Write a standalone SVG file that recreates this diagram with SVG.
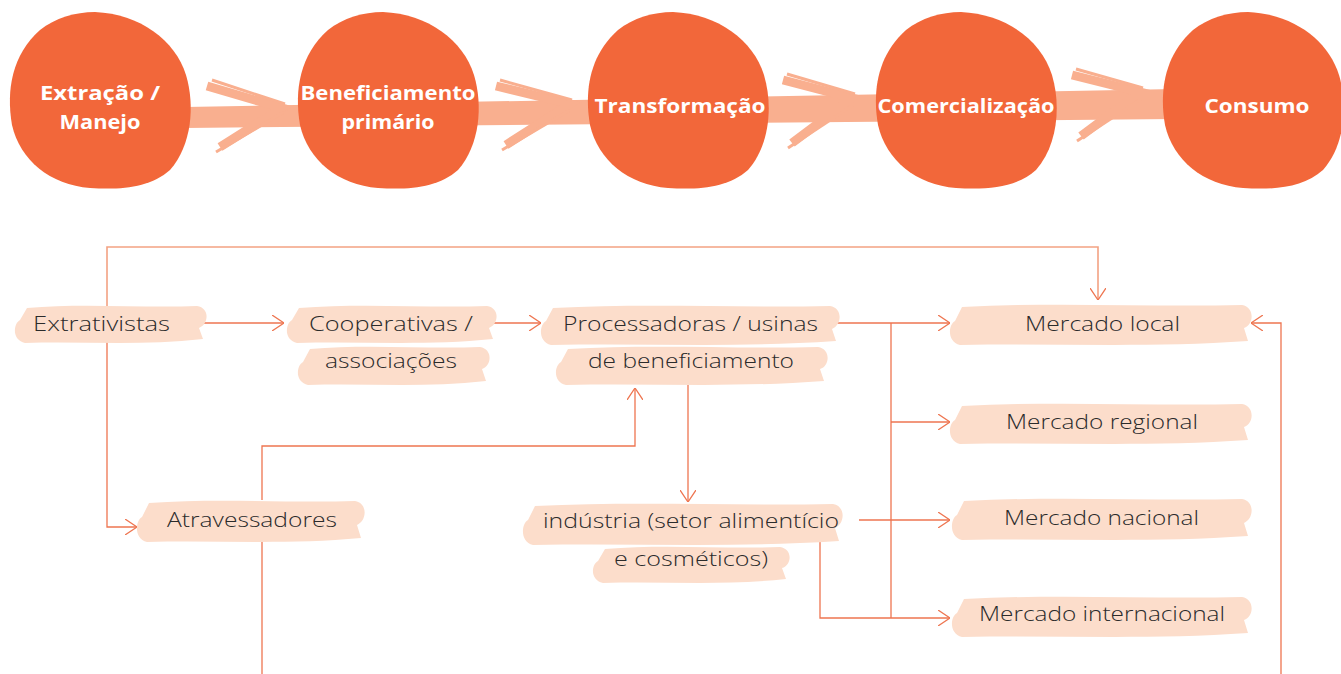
<svg xmlns="http://www.w3.org/2000/svg" width="1341" height="674" viewBox="0 0 1341 674">
<style>
.stage{fill:#F2673A}
.band{fill:#F9AF8F}
.chev{fill:none;stroke:#F9AF8F;stroke-width:9;stroke-linejoin:miter}
.chev2{fill:none;stroke:#F9AF8F;stroke-width:3}
.st{font-family:"Open Sans","Noto Sans",sans-serif;font-weight:700;font-size:20px;fill:#fff;text-anchor:middle}
.blob{fill:#FCDDCB}
.lbl{font-family:"Open Sans",Lato,sans-serif;font-weight:300;font-size:20.5px;fill:#2b2b2b;text-anchor:middle}
.ln{fill:none;stroke:#EE7550;stroke-width:1.3}
.lt{fill:none;stroke:#F3A283;stroke-width:1.6}
</style>
<defs>
<path id="circ" d="M-5,-88 C40,-86 75,-60 86,-25 C95,5 92,45 70,70 C50,88 20,90 -10,88 C-50,85 -80,60 -88,25 C-94,-10 -88,-45 -60,-70 C-45,-82 -25,-88 -5,-88 Z"/>
<marker id="ah" viewBox="0 0 12 16" refX="12" refY="8" markerWidth="12" markerHeight="16" markerUnits="userSpaceOnUse" orient="auto">
<path d="M0,0 L12,8 L0,16" fill="none" stroke="#EE7550" stroke-width="1.3"/>
</marker>
</defs>
<g id="flow-band">
<polygon class="band" points="185,107 1175,89 1175,119 185,128"/>
<polyline class="chev" points="207,86 282,108 220,147"/>
<polyline class="chev2" points="212,80 285,104"/>
<polyline class="chev2" points="216,152 284,112"/>
<polyline class="chev" points="496,86 570,104 506,145"/>
<polyline class="chev2" points="500,80 572,100"/>
<polyline class="chev2" points="502,150 570,110"/>
<polyline class="chev" points="783,80 852,98 792,143"/>
<polyline class="chev2" points="787,74 855,94"/>
<polyline class="chev2" points="788,148 853,105"/>
<polyline class="chev" points="1072,75 1140,92 1081,136"/>
<polyline class="chev2" points="1076,69 1143,88"/>
<polyline class="chev2" points="1077,141 1141,99"/>
</g>
<g id="stage1"><use href="#circ" class="stage" transform="translate(100,100)"/><text class="st" x="100" y="100" textLength="120" lengthAdjust="spacingAndGlyphs">Extração /</text><text class="st" x="100" y="129" textLength="81" lengthAdjust="spacingAndGlyphs">Manejo</text></g>
<g id="stage2"><use href="#circ" class="stage" transform="translate(388,100)"/><text class="st" x="388" y="100" textLength="175" lengthAdjust="spacingAndGlyphs">Beneficiamento</text><text class="st" x="388" y="129" textLength="93" lengthAdjust="spacingAndGlyphs">primário</text></g>
<g id="stage3"><use href="#circ" class="stage" transform="translate(678,100)"/><text class="st" x="680" y="113" textLength="171" lengthAdjust="spacingAndGlyphs">Transformação</text></g>
<g id="stage4"><use href="#circ" class="stage" transform="translate(966,100)"/><text class="st" x="966" y="113" textLength="177" lengthAdjust="spacingAndGlyphs">Comercialização</text></g>
<g id="stage5"><use href="#circ" class="stage" transform="translate(1253,100)"/><text class="st" x="1257" y="113" textLength="105" lengthAdjust="spacingAndGlyphs">Consumo</text></g>
<g id="connectors">
<path class="lt" d="M107,320 V247 H1098 V300" marker-end="url(#ah)"/>
<path class="ln" d="M107,330 V527 H137" marker-end="url(#ah)"/>
<path class="ln" d="M199,323 H284" marker-end="url(#ah)"/>
<path class="ln" d="M490,323 H541" marker-end="url(#ah)"/>
<path class="ln" d="M833,323 H950" marker-end="url(#ah)"/>
<path class="ln" d="M891,323 V618"/>
<path class="ln" d="M891,422 H950" marker-end="url(#ah)"/>
<path class="ln" d="M859,520 H950" marker-end="url(#ah)"/>
<path class="ln" d="M820,533 V618 H950" marker-end="url(#ah)"/>
<path class="ln" d="M688,385 V502" marker-end="url(#ah)"/>
<path class="ln" d="M262,500 V446 H635 V388" marker-end="url(#ah)"/>
<path class="ln" d="M262,538 V674"/>
<path class="ln" d="M1281,674 V323 H1251" marker-end="url(#ah)"/>
</g>
<g id="extrativistas"><path class="blob" d="M27,308 C82,303 140,308 197,306 C210,308 209,324 199,328 L203,339 C140,346 82,341 25,343 C12,340 13,324 20,320 Z"/><text class="lbl" x="101.5" y="331" textLength="137" lengthAdjust="spacingAndGlyphs">Extrativistas</text></g>
<g id="cooperativas"><path class="blob" d="M299,308 C361,303 424,308 487,306 C500,308 499,324 489,328 L493,339 C424,346 361,341 297,343 C284,340 285,324 292,320 Z"/><path class="blob" d="M310,349 C365,344 423,349 480,347 C493,349 492,366 482,369 L486,381 C423,388 365,383 308,385 C295,382 296,366 303,362 Z"/><text class="lbl" x="391" y="331" textLength="164" lengthAdjust="spacingAndGlyphs">Cooperativas /</text><text class="lbl" x="391" y="368" textLength="132" lengthAdjust="spacingAndGlyphs">associações</text></g>
<g id="processadoras"><path class="blob" d="M553,308 C646,303 735,308 830,306 C843,308 842,325 832,329 L836,341 C735,348 646,343 551,345 C538,342 539,325 546,321 Z"/><path class="blob" d="M568,349 C651,344 733,349 818,347 C831,349 830,366 820,369 L824,381 C733,388 651,383 566,385 C553,382 554,366 561,362 Z"/><text class="lbl" x="690.5" y="331" textLength="255" lengthAdjust="spacingAndGlyphs">Processadoras / usinas</text><text class="lbl" x="691" y="368" textLength="206" lengthAdjust="spacingAndGlyphs">de beneficiamento</text></g>
<g id="mercado-local"><path class="blob" d="M962,307 C1056,302 1146,307 1242,305 C1255,307 1254,325 1244,328 L1248,341 C1146,348 1056,343 960,345 C947,342 948,325 955,321 Z"/><text class="lbl" x="1102.5" y="331" textLength="155" lengthAdjust="spacingAndGlyphs">Mercado local</text></g>
<g id="mercado-regional"><path class="blob" d="M962,406 C1056,401 1146,406 1242,404 C1255,406 1254,424 1244,427 L1248,440 C1146,447 1056,442 960,444 C947,441 948,424 955,420 Z"/><text class="lbl" x="1102" y="429" textLength="192" lengthAdjust="spacingAndGlyphs">Mercado regional</text></g>
<g id="mercado-nacional"><path class="blob" d="M964,501 C1057,496 1147,501 1242,499 C1255,501 1254,519 1244,523 L1248,536 C1147,543 1057,538 962,540 C949,537 950,519 957,515 Z"/><text class="lbl" x="1101.5" y="525" textLength="195" lengthAdjust="spacingAndGlyphs">Mercado nacional</text></g>
<g id="mercado-internacional"><path class="blob" d="M964,599 C1057,594 1147,599 1242,597 C1255,599 1254,617 1244,620 L1248,633 C1147,640 1057,635 962,637 C949,634 950,617 957,613 Z"/><text class="lbl" x="1102" y="621" textLength="246" lengthAdjust="spacingAndGlyphs">Mercado internacional</text></g>
<g id="atravessadores"><path class="blob" d="M149,503 C217,498 285,503 355,501 C368,503 367,521 357,525 L361,538 C285,545 217,540 147,542 C134,539 135,521 142,517 Z"/><text class="lbl" x="252" y="527" textLength="170" lengthAdjust="spacingAndGlyphs">Atravessadores</text></g>
<g id="industria"><path class="blob" d="M535,506 C635,501 731,506 833,504 C846,506 845,524 835,528 L839,541 C731,548 635,543 533,545 C520,542 521,524 528,520 Z"/><path class="blob" d="M605,549 C662,544 721,549 780,547 C793,549 792,565 782,568 L786,579 C721,586 662,581 603,583 C590,580 591,565 598,561 Z"/><text class="lbl" x="691" y="528" textLength="296" lengthAdjust="spacingAndGlyphs">indústria (setor alimentício</text><text class="lbl" x="691" y="566" textLength="154" lengthAdjust="spacingAndGlyphs">e cosméticos)</text></g>
</svg>
